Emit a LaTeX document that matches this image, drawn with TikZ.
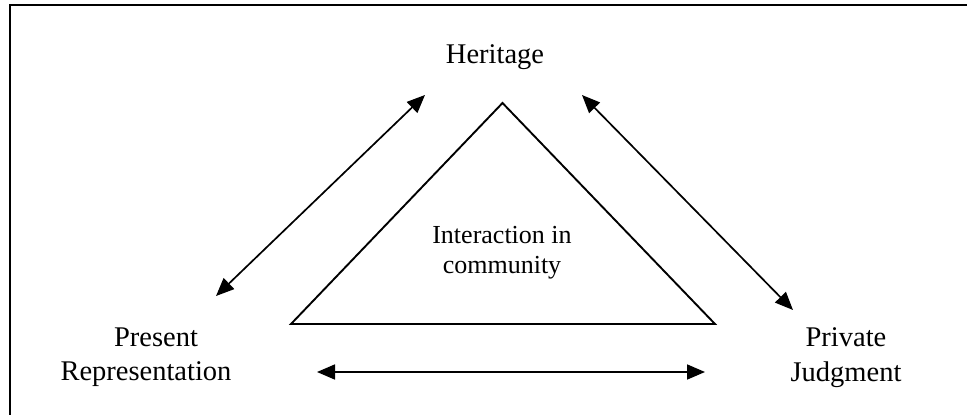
\documentclass[tikz,border=0pt]{standalone}
\usepackage{fontspec}
\setmainfont{Liberation Serif}
\usetikzlibrary{arrows.meta}
\begin{document}
\begin{tikzpicture}[x=1pt,y=-1pt,
  lbl/.style={anchor=base,inner sep=0pt,font=\fontsize{28.5}{34}\selectfont},
  lblsmall/.style={anchor=base,inner sep=0pt,font=\fontsize{26}{30}\selectfont},
  dbl/.style={line width=1.7pt,{Triangle[length=18pt,width=15pt]}-{Triangle[length=18pt,width=15pt]}},
  tri/.style={line width=1.9pt,line join=miter}]
\useasboundingbox (0,0) rectangle (967,415);
\fill[white] (0,0) rectangle (967,415);
% frame (only top and left visible)
\draw[line width=2pt] (10,415) -- (10,5) -- (967,5);
% labels
\node[lbl] (her) at (495,63) {Heritage};
\node[lbl] (pres1) at (156,346) {Present};
\node[lbl] (pres2) at (146,380) {Representation};
\node[lbl] (priv1) at (846,346) {Private};
\node[lbl] (priv2) at (846,381) {Judgment};
\node[lblsmall] (int1) at (502,243) {Interaction in};
\node[lblsmall] (int2) at (502,273) {community};
% triangle
\coordinate (ta) at (502.5,103);
\coordinate (tl) at (291,324);
\coordinate (tr) at (715,324);
\draw[tri] (ta) -- (tl) -- (tr) -- cycle;
% arrow ends
\coordinate (a1) at (216,296);
\coordinate (a2) at (425,95);
\coordinate (b1) at (582,95);
\coordinate (b2) at (793,310);
\coordinate (c1) at (317,372);
\coordinate (c2) at (705,372);
\draw[dbl] (a1) -- (a2);
\draw[dbl] (b1) -- (b2);
\draw[dbl] (c1) -- (c2);
\end{tikzpicture}
\end{document}
